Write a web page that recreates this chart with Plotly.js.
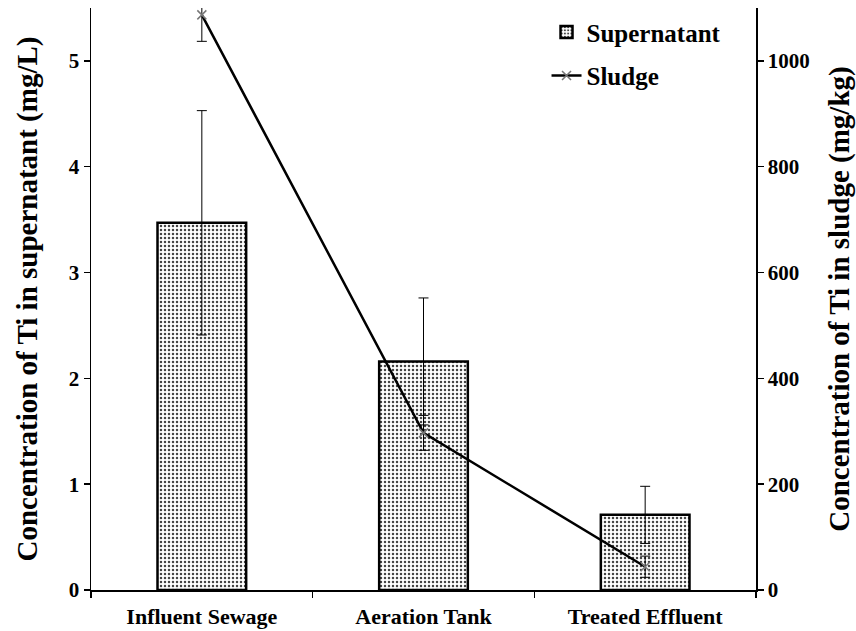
<!DOCTYPE html>
<html>
<head>
<meta charset="utf-8">
<script src="https://cdn.plot.ly/plotly-3.0.1.min.js"></script>
<style>
  html, body { margin: 0; padding: 0; background: #fff; }
  #chart { width: 856px; height: 631px; }
</style>
</head>
<body>
<div id="chart"></div>
<script>
// Sampling points along the treatment train
const stages = ["Influent Sewage", "Aeration Tank", "Treated Effluent"];

// Ti in supernatant (mg/L) with standard deviation
const supernatant = [3.47, 2.16, 0.71];
const supernatantErr = [1.06, 0.60, 0.27];

// Ti in sludge (mg/kg) with standard deviation
const sludge = [1087, 297, 44];
const sludgeErr = [50, 33, 20];

const leftTicks = [0, 1, 2, 3, 4, 5];
const rightTicks = [0, 200, 400, 600, 800, 1000];

const serif = "Liberation Serif, Times New Roman, serif";

const traces = [
  {
    type: "bar",
    name: "Supernatant",
    legendgroup: "sup",
    x: stages,
    y: supernatant,
    width: 0.4,
    error_y: { type: "data", array: supernatantErr, visible: true,
               color: "#000", thickness: 1, width: 5 },
    marker: {
      color: "#fff",
      line: { color: "#000", width: 2.5 },
      pattern: { shape: ".", fgcolor: "#444", bgcolor: "#fff", size: 4, solidity: 0.3 }
    },
    yaxis: "y"
  },
  {
    type: "scatter",
    mode: "lines+markers",
    name: "Sludge",
    legendgroup: "slu",
    x: stages,
    y: sludge,
    error_y: { type: "data", array: sludgeErr, visible: true,
               color: "#000", thickness: 1, width: 5 },
    line: { color: "#000", width: 2.5 },
    marker: { symbol: "x-thin", size: 9, line: { color: "#777", width: 1.5 }, color: "#777" },
    yaxis: "y2"
  }
];

const layout = {
  width: 856,
  height: 631,
  margin: { l: 91, r: 100, t: 8, b: 41 },
  paper_bgcolor: "#fff",
  plot_bgcolor: "#fff",
  font: { family: serif, color: "#000", size: 20 },
  showlegend: true,
  legend: {
    x: 0.685, y: 0.998, xanchor: "left", yanchor: "top",
    bgcolor: "rgba(0,0,0,0)",
    font: { family: serif, size: 25, color: "#000", weight: "bold" },
    traceorder: "grouped",
    tracegroupgap: 8
  },
  xaxis: {
    type: "category",
    showline: true, linecolor: "#000", linewidth: 1.5,
    ticks: "outside", tickson: "boundaries", ticklen: 6, tickcolor: "#000", tickwidth: 1.5,
    tickfont: { family: serif, size: 22, weight: "bold" },
    ticklabelstandoff: 6,
    showgrid: false, zeroline: false
  },
  yaxis: {
    range: [0, 5.5],
    tickvals: leftTicks,
    showline: true, linecolor: "#000", linewidth: 1.5,
    ticks: "outside", ticklen: 6, tickcolor: "#000", tickwidth: 1.5,
    tickfont: { family: serif, size: 21, weight: "bold" },
    showgrid: false, zeroline: false,
    title: { text: "Concentration of Ti in supernatant (mg/L)",
             font: { family: serif, size: 29, weight: "bold" }, standoff: 22 }
  },
  yaxis2: {
    range: [0, 1100],
    tickvals: rightTicks,
    overlaying: "y",
    side: "right",
    showline: true, linecolor: "#000", linewidth: 1.5,
    ticks: "outside", ticklen: 6, tickcolor: "#000", tickwidth: 1.5,
    tickfont: { family: serif, size: 21, weight: "bold" },
    showgrid: false, zeroline: false,
    title: { text: "Concentration of Ti in sludge (mg/kg)",
             font: { family: serif, size: 29, weight: "bold" }, standoff: 22 }
  },
  bargap: 0.6
};

Plotly.newPlot("chart", traces, layout, { displayModeBar: false, staticPlot: true });
</script>
</body>
</html>
